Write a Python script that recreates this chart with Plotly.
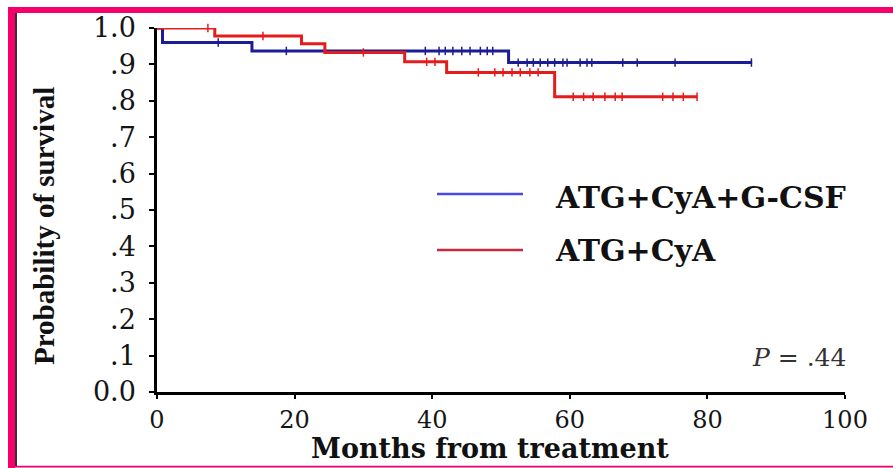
import numpy as np
import plotly.graph_objects as go

# ---- data ----
groups = ["ATG+CyA+G-CSF", "ATG+CyA"]

blue_times = [0, 0.8, 13.8, 51.1, 86.5]
blue_surv = [1.0, 0.96, 0.937, 0.905, 0.905]
blue_censor = [8.9, 18.8, 39.0, 41.0, 41.9, 43.0, 44.3, 45.5, 47.0, 48.0, 48.8,
               52.5, 53.8, 54.7, 55.7, 56.8, 57.8, 59.0, 59.6, 61.5, 62.5, 63.2,
               67.7, 69.8, 75.3, 86.4]

red_times = [0, 8.4, 21.0, 24.4, 36.0, 42.1, 57.8, 78.5]
red_surv = [1.0, 0.978, 0.957, 0.933, 0.907, 0.878, 0.811, 0.811]
red_censor = [7.4, 15.4, 30.0, 39.2, 40.4, 46.7, 49.1, 50.3, 51.6, 52.8, 54.2,
              55.4, 60.5, 62.0, 63.4, 65.1, 66.6, 67.6, 73.5, 75.0, 76.5, 78.5]

x_ticks = [0, 20, 40, 60, 80, 100]
y_ticks = [0.0, 0.1, 0.2, 0.3, 0.4, 0.5, 0.6, 0.7, 0.8, 0.9, 1.0]
y_ticktext = ["0.0", ".1", ".2", ".3", ".4", ".5", ".6", ".7", ".8", ".9", "1.0"]
p_text = "<i>P</i> = .44"

# ---- layout constants ----
W, H = 893, 468
L, R, T, B = 157, 48, 28, 76
PW, PH = W - L - R, H - T - B

def px(x):
    return (x - L) / PW

def py(y):
    return (H - B - y) / PH

BLUE = "#1c1c96"
RED = "#e31c1c"
PINK = "#f5006a"


def step_value(times, surv, t):
    idx = np.searchsorted(np.array(times), t, side="right") - 1
    return surv[max(idx, 0)]


fig = go.Figure()
for times, surv, cens, col in [(blue_times, blue_surv, blue_censor, BLUE),
                               (red_times, red_surv, red_censor, RED)]:
    fig.add_trace(go.Scatter(x=times, y=surv, mode="lines", line_shape="hv",
                             line=dict(color=col, width=3), cliponaxis=False,
                             showlegend=False, hoverinfo="skip"))
    fig.add_trace(go.Scatter(x=cens, y=[step_value(times, surv, c) for c in cens],
                             mode="markers", cliponaxis=False,
                             marker=dict(symbol="line-ns", size=6,
                                         line=dict(color=col, width=1.5)),
                             showlegend=False, hoverinfo="skip"))

serif_wide = "DejaVu Serif"
serif = "Liberation Serif"

fig.update_xaxes(range=[0, 100], tickvals=x_ticks, showline=True, linecolor="black",
                 linewidth=2.5, ticks="outside", ticklen=4, tickwidth=1.5,
                 tickcolor="black", showgrid=False, zeroline=False,
                 tickfont=dict(family=serif_wide, size=24, color="#151515"))
fig.update_yaxes(range=[0, 1.0], tickvals=y_ticks, ticktext=y_ticktext, showline=True,
                 linecolor="black", linewidth=2.5, ticks="outside", ticklen=5,
                 tickwidth=1.5, tickcolor="black", showgrid=False, zeroline=False,
                 ticklabelstandoff=8,
                 tickfont=dict(family=serif_wide, size=27, color="#151515"))

shapes = []
# legend sample lines
shapes.append(dict(type="line", xref="paper", yref="paper", x0=px(437), x1=px(523),
                   y0=py(194), y1=py(194), line=dict(color="#4a4ae0", width=2.5)))
shapes.append(dict(type="line", xref="paper", yref="paper", x0=px(437), x1=px(523),
                   y0=py(250), y1=py(250), line=dict(color="#c8283c", width=2.5)))
# pink frame
shapes.append(dict(type="rect", xref="paper", yref="paper", x0=px(8), x1=px(15),
                   y0=py(468), y1=py(7), fillcolor=PINK, line=dict(width=0)))
shapes.append(dict(type="rect", xref="paper", yref="paper", x0=px(8), x1=px(893),
                   y0=py(13), y1=py(7), fillcolor=PINK, line=dict(width=0)))
shapes.append(dict(type="rect", xref="paper", yref="paper", x0=px(8), x1=px(893),
                   y0=py(467.5), y1=py(465.8), fillcolor=PINK, line=dict(width=0)))
shapes.append(dict(type="rect", xref="paper", yref="paper", x0=px(15), x1=px(17),
                   y0=py(466), y1=py(13), fillcolor="#333333", line=dict(width=0)))

annotations = [
    dict(text=groups[0], xref="paper", yref="paper", x=px(553), y=py(197),
         xanchor="left", yanchor="middle", showarrow=False,
         font=dict(family=serif_wide, size=30, color="#111", weight="bold")),
    dict(text=groups[1], xref="paper", yref="paper", x=px(553), y=py(250),
         xanchor="left", yanchor="middle", showarrow=False,
         font=dict(family=serif_wide, size=30, color="#111", weight="bold")),
    dict(text=p_text, xref="paper", yref="paper", x=px(848), y=py(357),
         xanchor="right", yanchor="middle", showarrow=False,
         font=dict(family=serif_wide, size=25, color="#333")),
    dict(text="Months from treatment", xref="paper", yref="paper", x=px(490),
         y=py(466), xanchor="center", yanchor="bottom", showarrow=False,
         font=dict(family=serif_wide, size=27, color="#111", weight="bold")),
    dict(text="Probability of survival", xref="paper", yref="paper", x=px(44),
         y=py(226), xanchor="center", yanchor="middle", showarrow=False,
         textangle=-90,
         font=dict(family=serif, size=29, color="#111", weight="bold")),
]

fig.update_layout(width=W, height=H, autosize=False,
                  margin=dict(l=L, r=R, t=T, b=B, pad=0),
                  paper_bgcolor="white", plot_bgcolor="white",
                  shapes=shapes, annotations=annotations, hovermode=False,
                  showlegend=False)

fig.write_html("out.html", config={"displayModeBar": False},
               post_script="document.body.style.margin='0';"
                           "document.body.style.overflow='hidden';")
